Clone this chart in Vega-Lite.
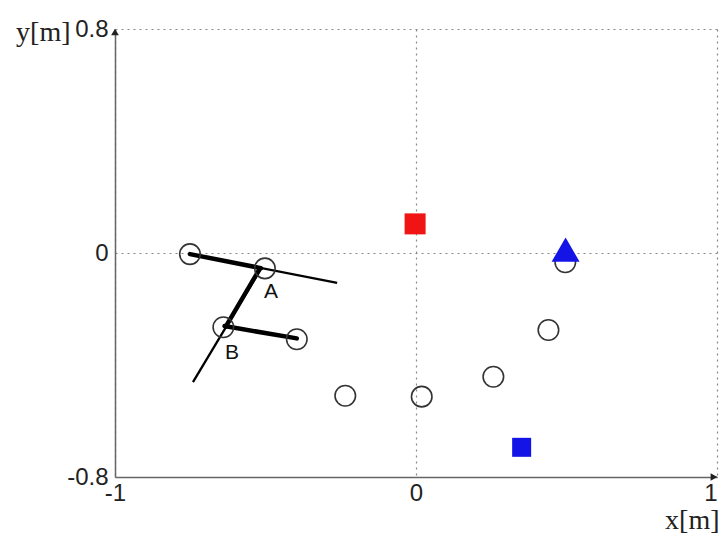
{
  "$schema": "https://vega.github.io/schema/vega-lite/v6.json",
  "autosize": {"type": "none"},
  "padding": {"left": 115, "top": 29, "right": 5, "bottom": 59},
  "width": 602,
  "height": 448,
  "background": "white",
  "config": {
    "view": {"stroke": null},
    "font": "Liberation Sans"
  },
  "datasets": {
    "markers": [
      {"x": -0.751, "y": -0.004},
      {"x": -0.502, "y": -0.055},
      {"x": -0.640, "y": -0.265},
      {"x": -0.396, "y": -0.308},
      {"x": -0.235, "y": -0.510},
      {"x": 0.019, "y": -0.513},
      {"x": 0.257, "y": -0.442},
      {"x": 0.440, "y": -0.275},
      {"x": 0.496, "y": -0.033}
    ],
    "rails": [
      {"seg": "r1", "x": -0.751, "y": -0.004},
      {"seg": "r1", "x": -0.262, "y": -0.107},
      {"seg": "r2", "x": -0.741, "y": -0.461},
      {"seg": "r2", "x": -0.518, "y": -0.061}
    ],
    "links": [
      {"seg": "l1", "x": -0.751, "y": -0.004},
      {"seg": "l1", "x": -0.515, "y": -0.054},
      {"seg": "l2", "x": -0.520, "y": -0.058},
      {"seg": "l2", "x": -0.632, "y": -0.263},
      {"seg": "l3", "x": -0.636, "y": -0.261},
      {"seg": "l3", "x": -0.396, "y": -0.305}
    ],
    "joints": [
      {"label": "A", "x": -0.482, "y": -0.139},
      {"label": "B", "x": -0.611, "y": -0.357}
    ],
    "goal": [{"x": -0.003, "y": 0.104}],
    "start": [{"x": 0.351, "y": -0.694}],
    "target": [{"x": 0.497, "y": 0.012}],
    "yEnd": [{"x": -1, "y": 0.8}],
    "xEnd": [{"x": 1, "y": -0.8}]
  },
  "layer": [
    {
      "data": {"name": "rails"},
      "mark": {"type": "line", "color": "black", "strokeWidth": 2.3},
      "encoding": {
        "x": {
          "field": "x",
          "type": "quantitative",
          "scale": {"domain": [-1, 1], "nice": false, "zero": false},
          "axis": {
            "values": [-1, 0, 1],
            "labelExpr": "'' + datum.value",
            "labelFont": "Liberation Sans",
            "labelFontSize": 24,
            "labelColor": "#222",
            "labelPadding": 4,
            "labelFlush": false,
            "labelAlign": {"condition": {"test": "datum.value == 1", "value": "right"}, "value": "center"},
            "ticks": false,
            "domainColor": "#666",
            "domainWidth": 1.5,
            "grid": true,
            "gridColor": "#888",
            "gridDash": [2, 4],
            "gridWidth": 1.2,
            "title": "x[m]",
            "titleFont": "Liberation Serif",
            "titleFontSize": 28,
            "titleFontWeight": "normal",
            "titleColor": "#222",
            "titleAlign": "right",
            "titleBaseline": "middle",
            "titleAnchor": null,
            "titleX": 604,
            "titleY": 43
          }
        },
        "y": {
          "field": "y",
          "type": "quantitative",
          "scale": {"domain": [-0.8, 0.8], "nice": false, "zero": false},
          "axis": {
            "values": [-0.8, 0, 0.8],
            "labelExpr": "'' + datum.value",
            "labelFont": "Liberation Sans",
            "labelFontSize": 24,
            "labelColor": "#222",
            "labelPadding": 7,
            "labelFlush": false,
            "ticks": false,
            "domainColor": "#666",
            "domainWidth": 1.5,
            "grid": true,
            "gridColor": "#888",
            "gridDash": [2, 4],
            "gridWidth": 1.2,
            "title": "y[m]",
            "titleFont": "Liberation Serif",
            "titleFontSize": 28,
            "titleFontWeight": "normal",
            "titleColor": "#222",
            "titleAngle": 0,
            "titleAlign": "right",
            "titleBaseline": "middle",
            "titleAnchor": null,
            "titleX": -45,
            "titleY": 3
          }
        },
        "detail": {"field": "seg"}
      }
    },
    {
      "data": {"name": "links"},
      "mark": {"type": "line", "color": "black", "strokeWidth": 4.5, "strokeCap": "round"},
      "encoding": {
        "x": {"field": "x", "type": "quantitative"},
        "y": {"field": "y", "type": "quantitative"},
        "detail": {"field": "seg"}
      }
    },
    {
      "data": {"name": "markers"},
      "mark": {"type": "point", "shape": "circle", "filled": false, "stroke": "#333", "strokeWidth": 1.6, "size": 420, "opacity": 1},
      "encoding": {
        "x": {"field": "x", "type": "quantitative"},
        "y": {"field": "y", "type": "quantitative"}
      }
    },
    {
      "data": {"name": "joints"},
      "mark": {"type": "text", "font": "Liberation Sans", "fontSize": 21, "color": "#111", "align": "center", "baseline": "middle"},
      "encoding": {
        "x": {"field": "x", "type": "quantitative"},
        "y": {"field": "y", "type": "quantitative"},
        "text": {"field": "label"}
      }
    },
    {
      "data": {"name": "goal"},
      "mark": {"type": "point", "shape": "square", "filled": true, "color": "#f01414", "size": 441, "opacity": 1},
      "encoding": {
        "x": {"field": "x", "type": "quantitative"},
        "y": {"field": "y", "type": "quantitative"}
      }
    },
    {
      "data": {"name": "start"},
      "mark": {"type": "point", "shape": "square", "filled": true, "color": "#1414e6", "size": 361, "opacity": 1},
      "encoding": {
        "x": {"field": "x", "type": "quantitative"},
        "y": {"field": "y", "type": "quantitative"}
      }
    },
    {
      "data": {"name": "target"},
      "mark": {"type": "point", "shape": "triangle-up", "filled": true, "color": "#1414e6", "size": 784, "opacity": 1},
      "encoding": {
        "x": {"field": "x", "type": "quantitative"},
        "y": {"field": "y", "type": "quantitative"}
      }
    },
    {
      "data": {"name": "yEnd"},
      "mark": {"type": "point", "shape": "triangle-up", "filled": true, "color": "#222", "size": 60, "opacity": 1, "yOffset": 3, "clip": false},
      "encoding": {
        "x": {"field": "x", "type": "quantitative"},
        "y": {"field": "y", "type": "quantitative"}
      }
    },
    {
      "data": {"name": "xEnd"},
      "mark": {"type": "point", "shape": "triangle-right", "filled": true, "color": "#222", "size": 60, "opacity": 1, "xOffset": -3, "clip": false},
      "encoding": {
        "x": {"field": "x", "type": "quantitative"},
        "y": {"field": "y", "type": "quantitative"}
      }
    }
  ]
}
